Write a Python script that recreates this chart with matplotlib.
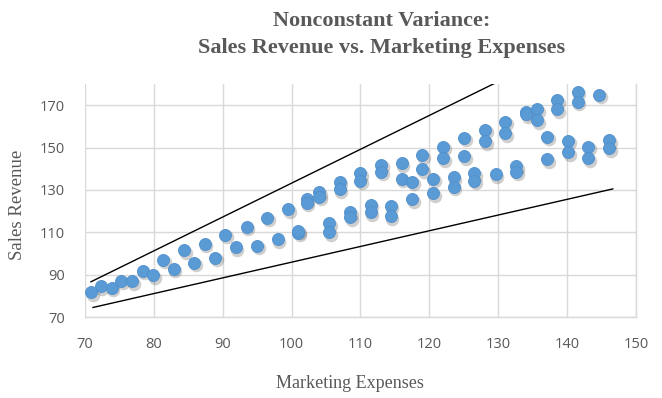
#!/usr/bin/env python3
"""Nonconstant variance scatter: sales revenue vs marketing expenses."""

import matplotlib
matplotlib.use("Agg")
import matplotlib.pyplot as plt
import matplotlib.transforms as mtransforms

# points (marketing expenses, sales revenue)
marketing = [
    70.9, 72.3, 73.9, 75.3, 76.9, 78.4, 79.9, 81.4, 82.9, 84.4,
    85.9, 87.4, 88.9, 90.4, 91.9, 93.5, 95.0, 96.5, 98.0, 99.5,
    101.0, 101.0, 102.2, 102.2, 104.0, 104.0, 105.5, 105.5, 107.0, 107.0,
    108.5, 108.5, 110.0, 110.0, 111.5, 111.5, 113.0, 113.0, 114.4, 114.4,
    116.0, 116.0, 117.5, 117.5, 119.0, 119.0, 120.5, 120.5, 122.0, 122.0,
    123.5, 123.5, 125.0, 125.0, 126.5, 126.5, 128.1, 128.1, 129.6, 131.0,
    131.0, 132.6, 132.6, 134.0, 134.0, 135.6, 135.6, 137.1, 137.1, 138.5,
    138.5, 140.1, 140.1, 141.5, 141.5, 143.0, 143.0, 144.6, 146.1, 146.1,
]
revenue = [
    81.8, 84.6, 83.8, 87.1, 86.9, 92.0, 89.8, 97.2, 92.8, 101.5,
    95.6, 104.7, 98.0, 108.8, 103.0, 112.7, 103.8, 117.0, 106.7, 120.8,
    109.9, 110.8, 125.7, 124.1, 128.9, 126.8, 114.3, 110.0, 134.0, 130.4,
    119.4, 117.1, 137.8, 134.4, 123.1, 119.4, 141.9, 138.7, 122.6, 117.6,
    142.5, 135.2, 133.9, 125.7, 146.5, 139.9, 135.2, 128.4, 150.4, 144.9,
    135.9, 131.5, 154.7, 145.8, 137.8, 134.4, 158.4, 152.9, 137.5, 162.1,
    156.8, 141.1, 138.7, 167.0, 165.8, 168.1, 162.9, 155.1, 144.6, 172.4,
    168.1, 153.2, 147.7, 176.4, 171.7, 150.4, 144.9, 174.9, 153.5, 149.8,
]

# hand-drawn envelope lines (start, end)
upper_x = [70.9, 129.4]
upper_y = [86.7, 180.2]
lower_x = [71.2, 146.6]
lower_y = [74.6, 130.5]

x_ticks = [70, 80, 90, 100, 110, 120, 130, 140, 150]
y_ticks = [70, 90, 110, 130, 150, 170]

text_gray = "#595959"
grid_gray = "#D9D9D9"
dot_blue = "#5B9BD5"

fig = plt.figure(figsize=(6.62, 3.98), dpi=100)
ax = fig.add_axes([0.128, 0.203, 0.833, 0.586])

ax.set_xlim(70, 150)
ax.set_ylim(70, 180)
ax.set_xticks(x_ticks)
ax.set_yticks(y_ticks)
ax.grid(True, color=grid_gray, linewidth=1.0)
ax.set_axisbelow(True)
for side in ["top", "left"]:
    ax.spines[side].set_visible(False)
for side in ["bottom", "right"]:
    ax.spines[side].set_color(grid_gray)
    ax.spines[side].set_linewidth(1.0)
ax.tick_params(length=0, labelsize=10.5, labelcolor=text_gray)
ax.tick_params(axis="x", pad=14)
ax.tick_params(axis="y", pad=14)
for lab in ax.get_xticklabels() + ax.get_yticklabels():
    lab.set_fontfamily("Open Sans")

# soft shadow under the markers
shadow_tr = mtransforms.offset_copy(ax.transData, fig=fig, x=1.2, y=-1.8, units="points")
ax.scatter(marketing, revenue, s=95, color="#404040", alpha=0.25,
           linewidths=0, transform=shadow_tr, zorder=3)
ax.scatter(marketing, revenue, s=75, color=dot_blue, edgecolors="#4F8FCC",
           linewidths=0.6, zorder=4)

ax.plot(upper_x, upper_y, color="black", linewidth=1.0, zorder=5)
ax.plot(lower_x, lower_y, color="black", linewidth=1.0, zorder=5)

fig.text(0.576, 0.948, "Nonconstant Variance:", ha="center", va="center",
         fontsize=16, fontweight="bold", color=text_gray, family="Liberation Serif")
fig.text(0.576, 0.880, "Sales Revenue vs. Marketing Expenses", ha="center", va="center",
         fontsize=16, fontweight="bold", color=text_gray, family="Liberation Serif")

ax.set_xlabel("Marketing Expenses", fontsize=13, color=text_gray,
              family="Liberation Serif")
ax.set_ylabel("Sales Revenue", fontsize=13.5, color=text_gray,
              family="Liberation Serif")
ax.xaxis.set_label_coords(0.481, -0.283)
ax.yaxis.set_label_coords(-0.122, 0.48)
ax.xaxis.label.set_va("center")
ax.yaxis.label.set_va("center")

fig.savefig("out.png", dpi=100)
